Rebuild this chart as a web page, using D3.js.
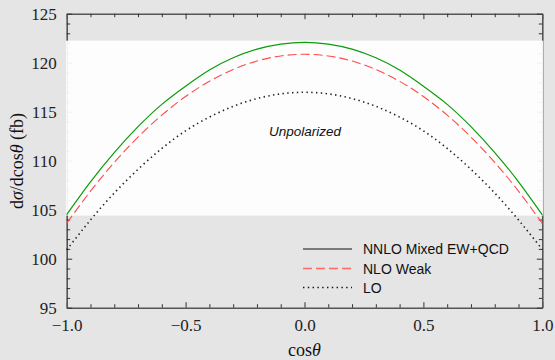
<!DOCTYPE html>
<html><head><meta charset="utf-8">
<script src="https://cdn.jsdelivr.net/npm/d3@7"></script>
<style>html,body{margin:0;padding:0;background:#e5e5e5;}svg{display:block;}</style>
</head><body>
<svg id="c" width="555" height="360"></svg>
<script>
const cosTheta = [-1,-0.9,-0.8,-0.7,-0.6,-0.5,-0.4,-0.3,-0.2,-0.1,0,0.1,0.2,0.3,0.4,0.5,0.6,0.7,0.8,0.9,1];
const nnlo = [104.5,107.84,110.83,113.47,115.75,117.6,119.25,120.5,121.38,121.9,122.08,121.9,121.38,120.5,119.25,117.6,115.75,113.47,110.83,107.84,104.47];
const nloWeak = [103.61,106.89,109.82,112.41,114.65,116.55,118.1,119.31,120.17,120.69,120.86,120.69,120.17,119.31,118.1,116.55,114.65,112.41,109.82,106.89,103.6];
const lo = [100.9,103.95,106.7,109.12,111.25,113.05,114.45,115.55,116.34,116.82,116.98,116.82,116.34,115.55,114.45,113.05,111.25,109.12,106.7,103.95,100.95];
const bandRange = [104.4, 122.25];
const xMajor = [-1,-0.5,0,0.5,1];
const yMajor = [95,100,105,110,115,120,125];
const legendLabels = ["NNLO Mixed EW+QCD","NLO Weak","LO"];
const annotation = "Unpolarized";

const svg = d3.select("#c");
const L=66.7, R=542.3, T=13.7, B=307.7;
const x = d3.scaleLinear().domain([-1,1]).range([L,R]);
const y = d3.scaleLinear().domain([95,125]).range([B,T]);
const xMinor = d3.range(-10,11).map(d=>d/10).filter(d=>!xMajor.some(m=>Math.abs(m-d)<1e-9));
const yMinor = d3.range(95,126).filter(d=>!yMajor.includes(d));
const fmtX = d=> d3.format(".1f")(d).replace("-","\u2212");

svg.append("rect").attr("width",555).attr("height",360).attr("fill","#e5e5e5");

function styleAxis(g){
  g.select(".domain").attr("stroke","#555").attr("stroke-width",1.6);
  g.selectAll(".tick line").attr("stroke","#333").attr("stroke-width",1);
  g.selectAll("text").attr("font-family","'Liberation Serif','Times New Roman',serif").attr("font-size",17).attr("fill","#222");
}
// bottom
let g = svg.append("g").attr("transform",`translate(0,${B})`)
  .call(d3.axisBottom(x).tickValues(xMajor).tickFormat(fmtX).tickSizeInner(-5.5).tickSizeOuter(0).tickPadding(11));
styleAxis(g);
g = svg.append("g").attr("transform",`translate(0,${B})`)
  .call(d3.axisBottom(x).tickValues(xMinor).tickFormat("").tickSizeInner(-3.5).tickSizeOuter(0));
styleAxis(g); g.select(".domain").remove();
// top
g = svg.append("g").attr("transform",`translate(0,${T})`)
  .call(d3.axisTop(x).tickValues(xMajor).tickFormat("").tickSizeInner(-5.5).tickSizeOuter(0));
styleAxis(g);
g = svg.append("g").attr("transform",`translate(0,${T})`)
  .call(d3.axisTop(x).tickValues(xMinor).tickFormat("").tickSizeInner(-3.5).tickSizeOuter(0));
styleAxis(g); g.select(".domain").remove();
// left
g = svg.append("g").attr("transform",`translate(${L},0)`)
  .call(d3.axisLeft(y).tickValues(yMajor).tickFormat(d3.format("d")).tickSizeInner(-5.5).tickSizeOuter(0).tickPadding(10));
styleAxis(g);
g = svg.append("g").attr("transform",`translate(${L},0)`)
  .call(d3.axisLeft(y).tickValues(yMinor).tickFormat("").tickSizeInner(-3.5).tickSizeOuter(0));
styleAxis(g); g.select(".domain").remove();
// right
g = svg.append("g").attr("transform",`translate(${R},0)`)
  .call(d3.axisRight(y).tickValues(yMajor).tickFormat("").tickSizeInner(-5.5).tickSizeOuter(0));
styleAxis(g);
g = svg.append("g").attr("transform",`translate(${R},0)`)
  .call(d3.axisRight(y).tickValues(yMinor).tickFormat("").tickSizeInner(-3.5).tickSizeOuter(0));
styleAxis(g); g.select(".domain").remove();

// white band
svg.append("rect").attr("x",L-0.8).attr("width",R-L+1.8)
  .attr("y",y(bandRange[1])).attr("height",y(bandRange[0])-y(bandRange[1]))
  .attr("fill","#fff").attr("fill-opacity",0.93);

// curves
const line = d3.line().x((d,i)=>x(cosTheta[i])).y(d=>y(d)).curve(d3.curveNatural);
svg.append("path").attr("d",line(lo)).attr("fill","none").attr("stroke","#222").attr("stroke-width",1.6).attr("stroke-dasharray","1.4,3.4");
svg.append("path").attr("d",line(nloWeak)).attr("fill","none").attr("stroke","#ff4a4a").attr("stroke-width",1.1).attr("stroke-dasharray","9,4");
svg.append("path").attr("d",line(nnlo)).attr("fill","none").attr("stroke","#0a9c0a").attr("stroke-width",1.2);

// annotation
svg.append("text").attr("x",x(0)+0.5).attr("y",y(112.55)).attr("text-anchor","middle")
  .attr("font-family","'Liberation Sans',Arial,sans-serif").attr("font-style","italic").attr("font-size",13.5).attr("fill","#111").text(annotation);

// legend
const legStyles = [
  {stroke:"#111", dash:null, w:1.1},
  {stroke:"#ff6a6a", dash:"9,4", w:1.3},
  {stroke:"#111", dash:"1.4,3.4", w:1.5}
];
const legY = [249, 268.5, 287.5];
legendLabels.forEach((lab,i)=>{
  const s = legStyles[i];
  svg.append("line").attr("x1",303).attr("x2",352).attr("y1",legY[i]).attr("y2",legY[i])
    .attr("stroke",s.stroke).attr("stroke-width",s.w).attr("stroke-dasharray",s.dash);
  svg.append("text").attr("x",363).attr("y",legY[i]+5).attr("font-family","'Liberation Sans',Arial,sans-serif")
    .attr("font-size",14).attr("fill","#111").text(lab);
});

// axis labels
const xl = svg.append("text").attr("x",x(0)).attr("y",356).attr("text-anchor","middle")
  .attr("font-family","'Liberation Serif','Times New Roman',serif").attr("font-size",18).attr("fill","#111");
xl.append("tspan").text("cos");
xl.append("tspan").attr("font-style","italic").text("θ");
const yl = svg.append("text").attr("transform","translate(23,161) rotate(-90)").attr("text-anchor","middle")
  .attr("font-family","'Liberation Serif','Times New Roman',serif").attr("font-size",18).attr("fill","#111");
yl.append("tspan").text("d");
yl.append("tspan").attr("font-style","italic").text("σ");
yl.append("tspan").text("/dcos");
yl.append("tspan").attr("font-style","italic").text("θ");
yl.append("tspan").text(" (fb)");
</script>
</body></html>
